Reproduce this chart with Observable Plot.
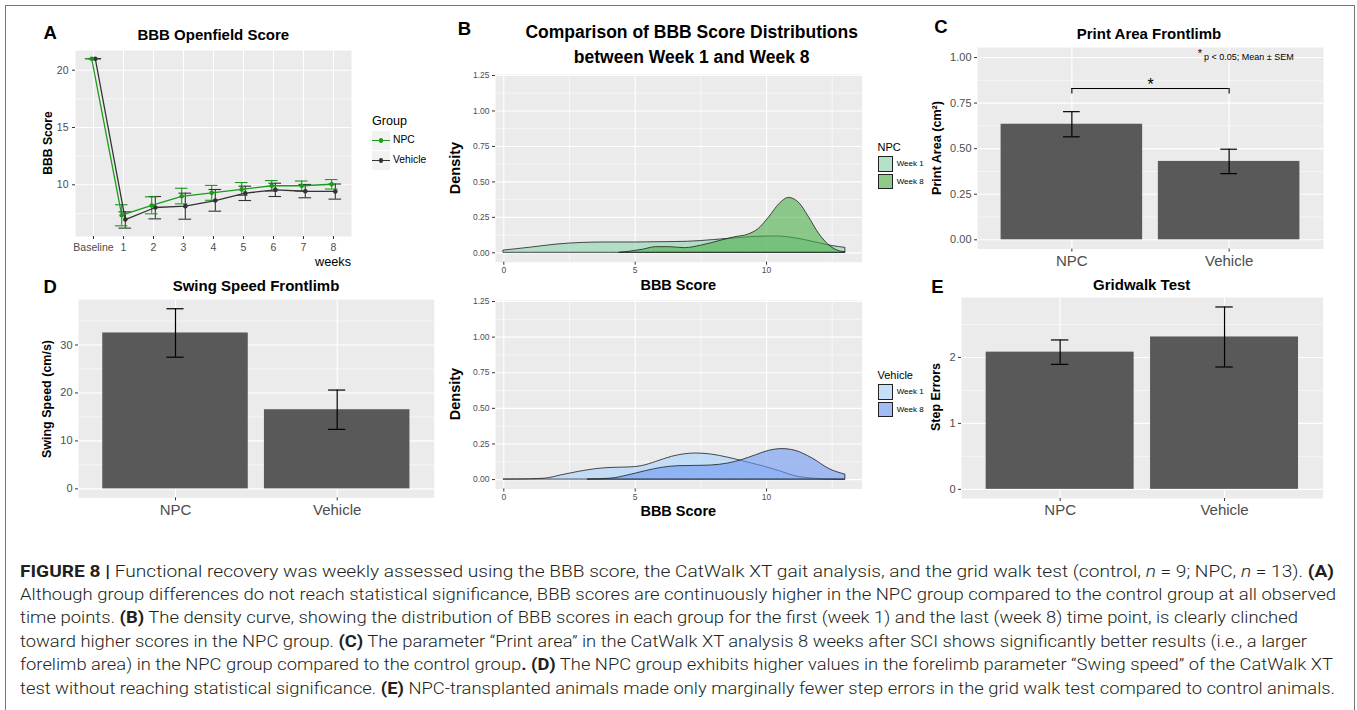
<!DOCTYPE html>
<html><head><meta charset="utf-8">
<script src="https://cdn.jsdelivr.net/npm/d3@7"></script>
<script src="https://cdn.jsdelivr.net/npm/@observablehq/plot@0.6"></script>
<style>
html,body{margin:0;padding:0;background:#fff;}
body{width:1357px;height:710px;position:relative;overflow:hidden;font-family:"Liberation Sans",Arial,Helvetica,sans-serif;}
svg{max-width:none !important;}
.abs{position:absolute;white-space:nowrap;line-height:1;}
.cap{position:absolute;left:20px;white-space:nowrap;line-height:1;font-family:Roboto,"Liberation Sans",sans-serif;font-weight:300;font-size:17px;color:#231f20;transform-origin:0 50%;}
.cap b{font-weight:700;}
#frame{position:absolute;left:5px;top:5px;width:1350px;height:760px;box-sizing:border-box;border:1.5px solid #777;border-bottom:none;}
.key{position:absolute;box-sizing:border-box;}
</style></head><body>
<div id="frame"></div>
<script>
// ---------------- data ----------------
// Panel A: BBB Openfield Score (mean ± SEM)
const weeks = ["Baseline","1","2","3","4","5","6","7","8"];
const groups = ["NPC","Vehicle"];
const npcMean = [21, 7.35, 8.2, 9.0, 9.3, 9.6, 9.92, 9.92, 10.05];
const npcLo   = [21, 6.42, 7.47, 8.34, 8.65, 9.07, 9.44, 9.45, 9.63];
const npcHi   = [21, 8.26, 8.95, 9.7, 9.95, 10.2, 10.37, 10.33, 10.46];
const vehMean = [21, 6.97, 8.02, 8.14, 8.63, 9.27, 9.56, 9.44, 9.42];
const vehLo   = [21, 6.22, 7.03, 7.0, 7.7, 8.63, 8.98, 8.87, 8.75];
const vehHi   = [21, 7.64, 8.98, 9.27, 9.59, 9.88, 10.14, 10.03, 10.07];
const aYMajor = [10, 15, 20];
const aYMinor = [7.5, 12.5, 17.5];

// Panel B: density curves
const weekLabels = ["Week 1", "Week 8"];
const npcW1X = [0, 1, 2, 3, 4, 5, 6, 7, 8, 9, 10, 10.5, 11, 12, 12.5, 13];
const npcW1Y = [0.016, 0.036, 0.058, 0.070, 0.073, 0.073, 0.075, 0.078, 0.090, 0.105, 0.115, 0.115, 0.105, 0.068, 0.048, 0.035];
const npcW8X = [4.4, 4.8, 5.3, 5.8, 6.3, 6.9, 7.5, 8.3, 8.8, 9.3, 9.7, 10.1, 10.5, 10.85, 11.25, 11.6, 12.0, 12.4, 12.7, 13];
const npcW8Y = [0, 0.008, 0.022, 0.040, 0.040, 0.033, 0.050, 0.087, 0.110, 0.128, 0.168, 0.250, 0.345, 0.387, 0.350, 0.255, 0.134, 0.050, 0.016, 0.004];
const vehW1X = [0, 1, 1.6, 2.2, 2.85, 3.5, 4.1, 4.75, 5.25, 5.8, 6.4, 7.3, 7.9, 8.55, 9.2, 9.85, 10.5, 11.1, 11.75, 12.4, 13];
const vehW1Y = [0, 0.002, 0.007, 0.030, 0.054, 0.073, 0.082, 0.085, 0.094, 0.124, 0.160, 0.183, 0.176, 0.153, 0.124, 0.094, 0.059, 0.023, 0.007, 0.001, 0];
const vehW8X = [3.2, 4.1, 4.75, 5.4, 6.0, 6.65, 7.3, 7.9, 8.55, 9.05, 9.6, 10.1, 10.6, 11.1, 11.75, 12.4, 13];
const vehW8Y = [0, 0.007, 0.030, 0.059, 0.082, 0.094, 0.096, 0.099, 0.113, 0.136, 0.171, 0.202, 0.214, 0.202, 0.148, 0.073, 0.035];
const bXMajor = [0, 5, 10];
const bXMinor = [2.5, 7.5, 12.5];
const bYMajor = [0, 0.25, 0.5, 0.75, 1, 1.25];
const bYMinor = [0.125, 0.375, 0.625, 0.875, 1.125];
const npcColors = ["#8cd5b1", "#4daf4a"];
const vehColors = ["#a8d2fc", "#6e98f3"];

// Panels C, D, E: bar charts (mean ± SEM)
const barGroups = ["NPC", "Vehicle"];
const printMean = [0.634, 0.430];
const printSem  = [0.069, 0.067];
const swingMean = [32.5, 16.5];
const swingSem  = [5.05, 4.1];
const stepMean  = [2.08, 2.31];
const stepSem   = [0.185, 0.455];
const cYMajor = [0, 0.25, 0.5, 0.75, 1];
const cYMinor = [0.125, 0.375, 0.625, 0.875];
const dYMajor = [0, 10, 20, 30];
const dYMinor = [5, 15, 25, 35];
const eYMajor = [0, 1, 2];
const eYMinor = [0.5, 1.5, 2.5];
const sigComparisons = [{a: 1, b: 2, y: 0.83, drop: 0.03, ty: 0.85, label: "*"}];

// ---------------- helpers ----------------
const FONT = "Liberation Sans, Arial, Helvetica, sans-serif";
const TICKC = "#333", TEXTC = "#4d4d4d", BG = "#ebebeb";
function place(node, left, top) {
  const d = document.createElement("div");
  d.style.cssText = `position:absolute;left:${left}px;top:${top}px;`;
  d.appendChild(node); document.body.appendChild(d); return d;
}
function panel(f, opts) {
  const ml = 45, mr = 6, mt = 6, mb = 30;
  const width = f[1] - f[0] + ml + mr, height = f[3] - f[2] + mt + mb;
  const svg = Plot.plot({width, height, marginLeft: ml, marginRight: mr, marginTop: mt, marginBottom: mb,
    style: {background: "transparent", overflow: "visible", fontFamily: FONT}, ...opts});
  place(svg, f[0] - ml, f[2] - mt);
}
function label(html, x, y, o = {}) {
  const d = document.createElement("div");
  d.className = "abs"; d.innerHTML = html;
  const a = o.anchor || "middle";
  const tx = a === "middle" ? "-50%" : a === "end" ? "-100%" : "0";
  d.style.left = x + "px"; d.style.top = y + "px";
  d.style.fontSize = (o.size || 12) + "px"; d.style.fontWeight = o.weight || 400;
  d.style.color = o.color || "#000";
  d.style.transform = `translate(${tx},-50%)` + (o.rotate ? ` rotate(${o.rotate}deg)` : "");
  document.body.appendChild(d); return d;
}
const gridY = (v, w) => Plot.ruleY(v, {stroke: "#fff", strokeWidth: w});
const gridX = (v, w) => Plot.ruleX(v, {stroke: "#fff", strokeWidth: w});
const bg = () => Plot.frame({fill: BG, stroke: "none"});

// ---------------- Panel A ----------------
const aRows = [];
weeks.forEach((w, i) => {
  aRows.push({g: "Vehicle", x: i + 0.06, m: vehMean[i], lo: vehLo[i], hi: vehHi[i]});
  aRows.push({g: "NPC", x: i - 0.06, m: npcMean[i], lo: npcLo[i], hi: npcHi[i]});
});
const weekIdx = weeks.map((w, i) => i);
panel([75, 351, 50, 236], {
  x: {domain: [-0.6, 8.6]}, y: {domain: [5.49, 21.72]},
  color: {domain: groups, range: ["#1a9b1a", "#333333"]},
  marks: [
    bg(), gridY(aYMinor, 0.55), gridY(aYMajor, 1.1), gridX(weekIdx, 1.1),
    Plot.ruleX(aRows, {x: "x", y1: "lo", y2: "hi", stroke: "g", strokeWidth: 1.1}),
    Plot.ruleY(aRows, {x1: d => d.x - 0.21, x2: d => d.x + 0.21, y: "lo", stroke: "g", strokeWidth: 1.1}),
    Plot.ruleY(aRows, {x1: d => d.x - 0.21, x2: d => d.x + 0.21, y: "hi", stroke: "g", strokeWidth: 1.1}),
    Plot.line(aRows, {x: "x", y: "m", z: "g", stroke: "g", strokeWidth: 1.3}),
    Plot.dot(aRows, {x: "x", y: "m", fill: "g", r: 2.3}),
    Plot.axisY(aYMajor, {tickSize: 3, tickPadding: 4, fontSize: 10.5, stroke: TICKC, fill: TEXTC, label: null}),
    Plot.axisX(weekIdx, {tickFormat: i => weeks[i], tickSize: 3, tickPadding: 4, fontSize: 10.5, stroke: TICKC, fill: TEXTC, label: null})
  ]
});

// ---------------- Panel B ----------------
function densityPanel(f, x1, y1, x2, y2, colors) {
  const rows = [...x1.map((x, i) => ({wk: weekLabels[0], x, d: y1[i]})),
                ...x2.map((x, i) => ({wk: weekLabels[1], x, d: y2[i]}))];
  panel(f, {
    x: {domain: [-0.316, 13.64]}, y: {domain: [-0.066, 1.257]},
    color: {domain: weekLabels, range: colors},
    marks: [
      bg(), gridY(bYMinor, 0.55), gridX(bXMinor, 0.55), gridY(bYMajor, 1.1), gridX(bXMajor, 1.1),
      Plot.area(rows, {x1: "x", y1: () => 0, y2: "d", z: "wk", fill: "wk", fillOpacity: 0.6,
        stroke: "#1e1e1e", strokeWidth: 0.8, curve: "monotone-x"}),
      Plot.axisY(bYMajor, {tickFormat: d3.format(".2f"), tickSize: 3, tickPadding: 3, fontSize: 8.5, stroke: TICKC, fill: TEXTC, label: null}),
      Plot.axisX(bXMajor, {tickSize: 3, tickPadding: 2, fontSize: 8.5, stroke: TICKC, fill: TEXTC, label: null})
    ]
  });
}
densityPanel([495, 861.7, 74, 261.7], npcW1X, npcW1Y, npcW8X, npcW8Y, npcColors);
densityPanel([495, 861.7, 299.5, 488], vehW1X, vehW1Y, vehW8X, vehW8Y, vehColors);

// ---------------- Bar panels ----------------
function barPanel(f, ydom, means, sems, yMajor, yMinor, fmt, extra = []) {
  const rows = barGroups.map((g, k) => ({g, i: k + 1, m: means[k], s: sems[k]}));
  panel(f, {
    x: {domain: [0.4, 2.6]}, y: {domain: ydom},
    marks: [
      bg(), gridY(yMinor, 0.55), gridY(yMajor, 1.1), gridX(rows.map(d => d.i), 1.1),
      Plot.rect(rows, {x1: d => d.i - 0.45, x2: d => d.i + 0.45, y1: () => 0, y2: "m", fill: "#595959"}),
      Plot.ruleX(rows, {x: "i", y1: d => d.m - d.s, y2: d => d.m + d.s, stroke: "#000", strokeWidth: 1.2}),
      Plot.ruleY(rows, {x1: d => d.i - 0.053, x2: d => d.i + 0.053, y: d => d.m - d.s, stroke: "#000", strokeWidth: 1.2}),
      Plot.ruleY(rows, {x1: d => d.i - 0.053, x2: d => d.i + 0.053, y: d => d.m + d.s, stroke: "#000", strokeWidth: 1.2}),
      ...extra,
      Plot.axisY(yMajor, {tickFormat: fmt, tickSize: 3, tickPadding: 3, fontSize: 11, stroke: TICKC, fill: TEXTC, label: null}),
      Plot.axisX(rows.map(d => d.i), {tickFormat: i => barGroups[i - 1], tickSize: 3, tickPadding: 3, fontSize: 15, stroke: TICKC, fill: TEXTC, label: null})
    ]
  });
}
barPanel([976.7, 1322.7, 46.7, 248.3], [-0.051, 1.055], printMean, printSem, cYMajor, cYMinor, d3.format(".2f"), [
  Plot.ruleY(sigComparisons, {x1: "a", x2: "b", y: "y", stroke: "#000", strokeWidth: 1.1}),
  Plot.ruleX(sigComparisons, {x: "a", y1: d => d.y - d.drop, y2: "y", stroke: "#000", strokeWidth: 1.1}),
  Plot.ruleX(sigComparisons, {x: "b", y1: d => d.y - d.drop, y2: "y", stroke: "#000", strokeWidth: 1.1}),
  Plot.text(sigComparisons, {x: d => (d.a + d.b) / 2, y: "ty", text: "label", fontSize: 16, fill: "#000"})
]);
barPanel([78.3, 434, 299.3, 497.7], [-1.88, 39.48], swingMean, swingSem, dYMajor, dYMinor, d3.format("d"));
barPanel([961, 1322.7, 296.7, 497.7], [-0.1385, 2.9085], stepMean, stepSem, eYMajor, eYMinor, d3.format("d"));

// ---------------- Text ----------------
const L = 18.5;
label("A", 50.3, 32.7, {size: L, weight: 700});
label("B", 464.5, 29, {size: L, weight: 700});
label("C", 941, 26.5, {size: L, weight: 700});
label("D", 50.3, 287, {size: L, weight: 700});
label("E", 937.5, 286.7, {size: L, weight: 700});

label("BBB Openfield Score", 213.3, 33.8, {size: 15, weight: 700});
label("Comparison of BBB Score Distributions", 691.7, 33.3, {size: 17.5, weight: 700});
label("between Week 1 and Week 8", 691.7, 58.3, {size: 17.5, weight: 700});
label("Print Area Frontlimb", 1149, 33.3, {size: 15, weight: 700});
label("Swing Speed Frontlimb", 256, 285, {size: 15, weight: 700});
label("Gridwalk Test", 1141.7, 284, {size: 15, weight: 700});

label("BBB Score", 47.5, 143, {size: 12.2, weight: 700, rotate: -90});
label("weeks", 351, 261.7, {size: 12.7, anchor: "end"});
label("Density", 455, 168, {size: 14.5, weight: 700, rotate: -90});
label("Density", 455, 394, {size: 14.5, weight: 700, rotate: -90});
label("BBB Score", 678.3, 285, {size: 14.5, weight: 700});
label("BBB Score", 678.3, 510.7, {size: 14.5, weight: 700});
label("Print Area (cm²)", 936.7, 147.5, {size: 12.6, weight: 700, rotate: -90});
label("Swing Speed (cm/s)", 46.7, 398.5, {size: 12.5, weight: 700, rotate: -90});
label("Step Errors", 936, 397.2, {size: 12.5, weight: 700, rotate: -90});
label("*", 1200, 53, {size: 11});
label("p &lt; 0.05; Mean ± SEM", 1204, 57.3, {size: 9, anchor: "start"});

// Legend A
label("Group", 372, 121, {size: 12.6, anchor: "start"});
[["NPC", "#1a9b1a", 130.7], ["Vehicle", "#333333", 150.7]].forEach(([g, c, y]) => {
  const k = document.createElement("div");
  k.className = "key";
  k.style.cssText += `left:372px;top:${y}px;width:18px;height:19.3px;background:#f2f2f2;`;
  k.innerHTML = `<div style="position:absolute;left:0;right:0;top:9px;height:1.3px;background:${c}"></div>` +
    `<div style="position:absolute;left:6.7px;top:7.35px;width:4.6px;height:4.6px;border-radius:50%;background:${c}"></div>`;
  document.body.appendChild(k);
  label(g, 393, y + 9.7, {size: 10.3, anchor: "start"});
});

// Legends B (clipped on the right like the original)
function densLegend(title, top, colors) {
  const box = document.createElement("div");
  box.style.cssText = `position:absolute;left:876px;top:${top}px;width:48px;height:64px;overflow:hidden;font-size:8px;`;
  let html = `<div class="abs" style="left:1.5px;top:0;font-size:11px;">${title}</div>`;
  weekLabels.forEach((w, k) => {
    const y = 14 + k * 17.5;
    const rgb = d3.rgb(colors[k]);
    html += `<div class="key" style="left:1.8px;top:${y}px;width:15.5px;height:15.5px;background:#f2f2f2;border:1px solid #222;">` +
      `<div style="position:absolute;inset:0;background:rgba(${rgb.r},${rgb.g},${rgb.b},0.6)"></div></div>` +
      `<div class="abs" style="left:20.7px;top:${y + 4}px;font-size:8px;">${w}</div>`;
  });
  box.innerHTML = html;
  document.body.appendChild(box);
}
densLegend("NPC", 142, npcColors);
densLegend("Vehicle", 370, vehColors);

// ---------------- Caption ----------------
const captionLines = [
  "<b>FIGURE 8 |</b> Functional recovery was weekly assessed using the BBB score, the CatWalk XT gait analysis, and the grid walk test (control, <i>n</i> = 9; NPC, <i>n</i> = 13). <b>(A)</b>",
  "Although group differences do not reach statistical significance, BBB scores are continuously higher in the NPC group compared to the control group at all observed",
  "time points. <b>(B)</b> The density curve, showing the distribution of BBB scores in each group for the first (week 1) and the last (week 8) time point, is clearly clinched",
  "toward higher scores in the NPC group. <b>(C)</b> The parameter “Print area” in the CatWalk XT analysis 8 weeks after SCI shows significantly better results (i.e., a larger",
  "forelimb area) in the NPC group compared to the control group<b>.</b> <b>(D)</b> The NPC group exhibits higher values in the forelimb parameter “Swing speed” of the CatWalk XT",
  "test without reaching statistical significance. <b>(E)</b> NPC-transplanted animals made only marginally fewer step errors in the grid walk test compared to control animals."
];
// right end of each caption line in the reference
const capEnds = [1334, 1336, 1298, 1307, 1333, 1335];
const capEls = captionLines.map((t, k) => {
  const d = document.createElement("div");
  d.className = "cap"; d.innerHTML = t;
  d.style.top = (571 + k * 23.4 - 8.5) + "px";
  document.body.appendChild(d); return d;
});
function fitCaption() {
  capEls.forEach((el, k) => {
    el.style.transform = "none";
    const w = el.getBoundingClientRect().width;
    el.style.transform = `scaleX(${(capEnds[k] - 20) / w})`;
  });
}
fitCaption();
if (document.fonts && document.fonts.ready) document.fonts.ready.then(fitCaption);
</script>
</body></html>
